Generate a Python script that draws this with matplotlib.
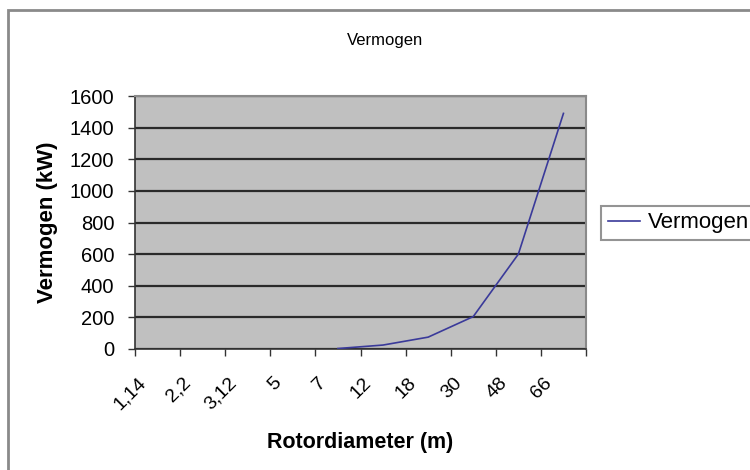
import numpy as np
import matplotlib.pyplot as plt
from matplotlib.patches import Rectangle
from matplotlib.transforms import ScaledTranslation

plt.rcParams['font.family'] = ['Liberation Sans', 'DejaVu Sans']

# Data - rotordiameter categories and power (kW)
diameters = ['1,14', '2,2', '3,12', '5', '7', '12', '18', '30', '48', '66']
vermogen = [np.nan, np.nan, np.nan, np.nan, 3, 25, 75, 205, 600, 1490]
y_ticks = [0, 200, 400, 600, 800, 1000, 1200, 1400, 1600]

W, H = 750, 470
fig = plt.figure(figsize=(W / 100, H / 100), dpi=100)
ax = fig.add_axes([135 / W, 1 - 349 / H, (586 - 135) / W, (349 - 96) / H])

# outer chart border (cut off at right and bottom like the screenshot)
fig.patches.append(Rectangle((8 / W, -0.2), 1.2, 1.2 - 10 / H, transform=fig.transFigure,
                             fill=False, edgecolor='#8a8a8a', linewidth=2, zorder=0))

ax.set_facecolor('#c0c0c0')
x = np.arange(len(diameters)) + 0.5  # categories sit between tick marks
ax.plot(x, vermogen, color='#3a3a9a', linewidth=1.2, label='Vermogen', zorder=3)

ax.set_xlim(0, len(diameters))
ax.set_ylim(0, 1600)
ax.set_yticks(y_ticks)
ax.yaxis.grid(True, color='#2a2a2a', linewidth=1.6)
ax.set_axisbelow(True)

# tick marks on the category boundaries, labels at the centres
ax.set_xticks(np.arange(len(diameters) + 1), minor=True)
ax.set_xticks(x)
ax.set_xticklabels(diameters, rotation=45, ha='right', va='top', fontsize=14)
ax.tick_params(axis='x', which='major', length=0, pad=18)
ax.tick_params(axis='x', which='minor', length=5, width=1, color='#333333')
ax.tick_params(axis='y', length=5, width=1, color='#333333', labelsize=14.5, pad=10)
shift = ScaledTranslation(-8 / 100, 0, fig.dpi_scale_trans)
for lbl in ax.get_xticklabels():
    lbl.set_transform(lbl.get_transform() + shift)

for side in ['left', 'bottom']:
    ax.spines[side].set_color('#333333')
    ax.spines[side].set_linewidth(1.2)
for side in ['top', 'right']:
    ax.spines[side].set_color('#8a8a8a')
    ax.spines[side].set_linewidth(1.5)

fig.text(385 / W, 1 - 40 / H, 'Vermogen', ha='center', va='center', fontsize=12)
ax.set_ylabel('Vermogen (kW)', fontsize=16, fontweight='bold', labelpad=8)
ax.set_xlabel('Rotordiameter (m)', fontsize=15.5, fontweight='bold', labelpad=14)

leg = fig.legend(loc='center left', bbox_to_anchor=(601 / W, 1 - 223 / H), fontsize=16,
                 frameon=True, fancybox=False, handlelength=1.45, handletextpad=0.35,
                 borderpad=0.3, borderaxespad=0)
leg.get_frame().set_edgecolor('#7a7a7a')
leg.get_frame().set_linewidth(1.5)

fig.savefig('out.png', dpi=100)
